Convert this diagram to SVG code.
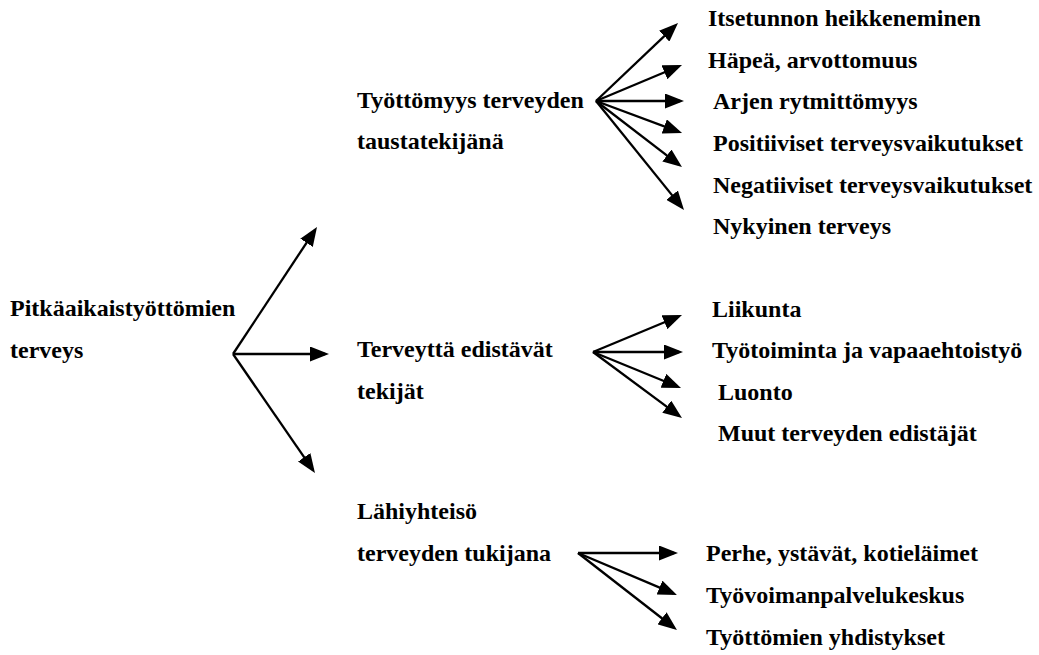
<svg xmlns="http://www.w3.org/2000/svg" width="1039" height="655" viewBox="0 0 1039 655">
<style>
text{font-family:"Liberation Serif","Times New Roman",serif;font-weight:bold;font-size:24px;fill:#000}
.c line{stroke:#000;stroke-width:2.3;fill:none;marker-end:url(#ah)}
</style>
<defs>
<marker id="ah" markerUnits="userSpaceOnUse" markerWidth="19" markerHeight="15" viewBox="0 0 19 15" refX="15" refY="7.5" orient="auto">
<path d="M0,0 L19,7.5 L0,15 z" fill="#000"/>
</marker>
</defs>
<rect width="1039" height="655" fill="#fff"/>
<g id="root"><text x="10" y="316">Pitkäaikaistyöttömien</text><text x="10" y="358">terveys</text></g>
<g id="n1"><text x="357" y="108">Työttömyys terveyden</text><text x="357" y="149">taustatekijänä</text></g>
<g id="n2"><text x="357" y="357">Terveyttä edistävät</text><text x="357" y="399">tekijät</text></g>
<g id="n3"><text x="357" y="519">Lähiyhteisö</text><text x="357" y="561">terveyden tukijana</text></g>
<g id="l1"><text x="708" y="26">Itsetunnon heikkeneminen</text></g>
<g id="l2"><text x="708" y="68">Häpeä, arvottomuus</text></g>
<g id="l3"><text x="713" y="109">Arjen rytmittömyys</text></g>
<g id="l4"><text x="713" y="151">Positiiviset terveysvaikutukset</text></g>
<g id="l5"><text x="713" y="193">Negatiiviset terveysvaikutukset</text></g>
<g id="l6"><text x="713" y="234">Nykyinen terveys</text></g>
<g id="m1"><text x="712" y="317">Liikunta</text></g>
<g id="m2"><text x="712" y="358">Työtoiminta ja vapaaehtoistyö</text></g>
<g id="m3"><text x="718" y="400">Luonto</text></g>
<g id="m4"><text x="718" y="441">Muut terveyden edistäjät</text></g>
<g id="b1"><text x="706" y="561">Perhe, ystävät, kotieläimet</text></g>
<g id="b2"><text x="706" y="603">Työvoimanpalvelukeskus</text></g>
<g id="b3"><text x="706" y="645">Työttömien yhdistykset</text></g>
<g id="connectors" class="c">
<line x1="233" y1="354" x2="314.8" y2="230.3"/>
<line x1="233" y1="354" x2="325" y2="354"/>
<line x1="233" y1="354" x2="312.7" y2="469.7"/>
<line x1="596" y1="101" x2="675.1" y2="25.8"/>
<line x1="596" y1="101" x2="678.3" y2="66.5"/>
<line x1="596" y1="101" x2="680" y2="101"/>
<line x1="596" y1="101" x2="678.3" y2="131.6"/>
<line x1="596" y1="101" x2="678.8" y2="164.6"/>
<line x1="596" y1="101" x2="681.5" y2="206.9"/>
<line x1="593" y1="352" x2="678.3" y2="316.5"/>
<line x1="593" y1="352" x2="679" y2="352"/>
<line x1="593" y1="352" x2="677.3" y2="386.5"/>
<line x1="593" y1="352" x2="678.8" y2="415.6"/>
<line x1="578" y1="553" x2="674" y2="553"/>
<line x1="578" y1="553" x2="673.3" y2="593.4"/>
<line x1="578" y1="553" x2="673.8" y2="627.5"/>
</g>
</svg>
